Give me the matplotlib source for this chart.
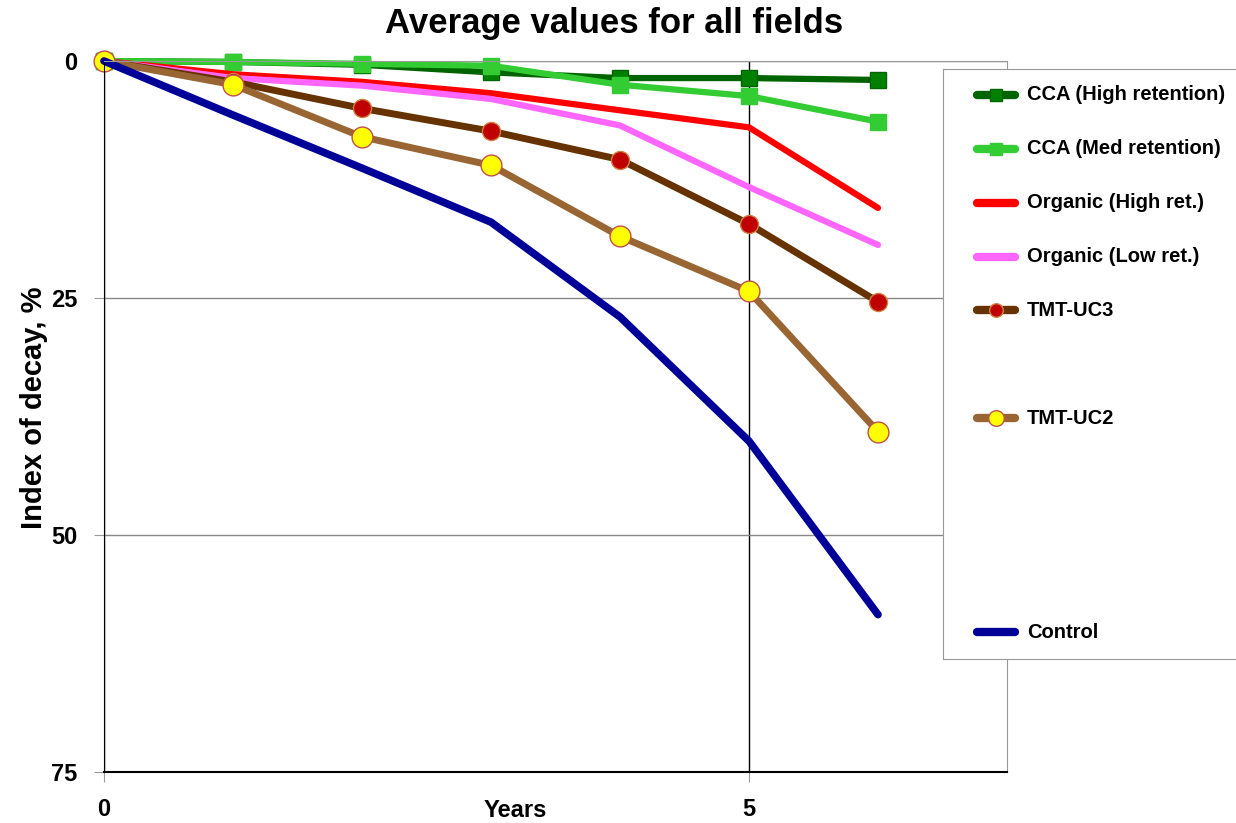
import matplotlib
matplotlib.use('Agg')
import matplotlib.pyplot as plt
from matplotlib.lines import Line2D

plt.rcParams['font.family'] = ['Liberation Sans', 'DejaVu Sans']
plt.rcParams['font.weight'] = 'bold'

# data (years, index of decay %)
years = [0, 1, 2, 3, 4, 5, 6]
cca_high = [0, 0.1, 0.4, 1.2, 1.8, 1.8, 2.0]
cca_med = [0, 0.1, 0.3, 0.5, 2.5, 3.7, 6.4]
org_high = [0, 1.4, 2.2, 3.4, 5.2, 7.0, 15.5]
org_low = [0, 1.8, 2.6, 4.0, 6.8, 13.3, 19.4]
tmt_uc3 = [0, 2.2, 5.0, 7.4, 10.4, 17.2, 25.4]
tmt_uc2 = [0, 2.5, 8.0, 11.0, 18.5, 24.3, 39.1]
control = [0, 5.7, 11.3, 17.0, 27.0, 40.1, 58.4]

series = [
    ('CCA (High retention)', cca_high, dict(color='#006400', lw=4.5, marker='s', ms=11,
                                            mfc='#008000', mec='#006400')),
    ('CCA (Med retention)', cca_med, dict(color='#33CC33', lw=4.5, marker='s', ms=11,
                                          mfc='#33CC33', mec='#33CC33')),
    ('Organic (High ret.)', org_high, dict(color='#FF0000', lw=4.5)),
    ('Organic (Low ret.)', org_low, dict(color='#FF66FF', lw=4.5)),
    ('TMT-UC3', tmt_uc3, dict(color='#663300', lw=5, marker='o', ms=13,
                              mfc='#C00000', mec='#D08040', mew=1)),
    ('TMT-UC2', tmt_uc2, dict(color='#996633', lw=5, marker='o', ms=15,
                              mfc='#FFFF00', mec='#C0504D', mew=1)),
    ('Control', control, dict(color='#000099', lw=5.5)),
]

fig = plt.figure(figsize=(12.36, 8.23), dpi=100)
ax = fig.add_axes([104/1236, 51/823, 903/1236, 711/823])

for name, vals, st in series:
    ax.plot(years, vals, solid_capstyle='round', clip_on=False, **st)

ax.set_xlim(0, 7)
ax.set_ylim(75, 0)
ax.set_xticks([0, 5])
ax.set_yticks([0, 25, 50, 75])
ax.tick_params(axis='both', labelsize=17, length=7, color='#999999', direction='out')
ax.tick_params(axis='y', pad=12)
ax.tick_params(axis='x', pad=12)
for lab in ax.get_xticklabels() + ax.get_yticklabels():
    lab.set_fontweight('bold')

ax.grid(axis='y', color='#888888', lw=1)
ax.grid(axis='x', color='black', lw=1)
ax.set_axisbelow(True)
ax.spines['left'].set_color('black')
ax.spines['bottom'].set_color('black')
ax.spines['bottom'].set_linewidth(1.5)
ax.spines['top'].set_color('#999999')
ax.spines['right'].set_color('#999999')

ax.set_xlabel('Years', fontsize=17, fontweight='bold')
ax.xaxis.set_label_coords(0.455, -0.038)
ax.set_ylabel('Index of decay, %', fontsize=21, fontweight='bold')
ax.yaxis.set_label_coords(-0.062, 0.512)

fig.text(614/1236, 1 - 24/823, 'Average values for all fields', fontsize=25,
         fontweight='bold', ha='center', va='center')

# legend box (Excel style, uneven rows)
lax = fig.add_axes([943/1236, 164/823, 300/1236, 590/823])
lax.set_xlim(943, 1243)
lax.set_ylim(659, 69)
lax.set_xticks([])
lax.set_yticks([])
for s in lax.spines.values():
    s.set_color('#999999')
leg_y = [95, 149, 203, 257, 310, 418, 632]
for (name, vals, st), yy in zip(series, leg_y):
    lst = dict(st)
    lst['lw'] = 6
    if 'ms' in lst:
        lst['ms'] = lst['ms'] * 0.75
    lax.add_line(Line2D([977, 1015], [yy, yy], solid_capstyle='round',
                        markevery=[], **lst))
    if 'marker' in lst:
        lax.plot([996], [yy], linestyle='none', marker=lst['marker'], ms=lst['ms'],
                 mfc=lst['mfc'], mec=lst['mec'], mew=lst.get('mew', 1))
    lax.text(1027, yy, name, fontsize=14.5, fontweight='bold', va='center', ha='left')

fig.savefig('out.png', dpi=100)
